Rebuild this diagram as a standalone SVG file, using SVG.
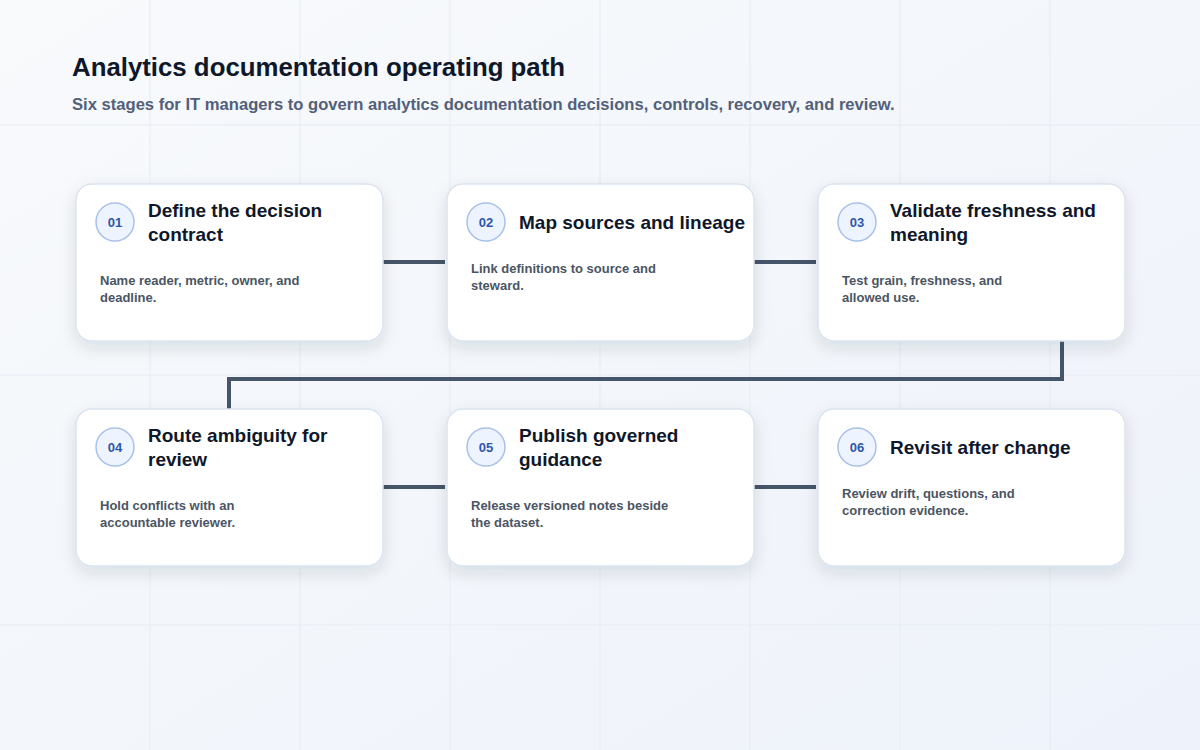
<svg xmlns="http://www.w3.org/2000/svg" width="1200" height="750" viewBox="0 0 1200 750">
<defs>
<linearGradient id="bg" x1="0" y1="0" x2="1" y2="1"><stop offset="0" stop-color="#f8fafc"/><stop offset="1" stop-color="#eef2fa"/></linearGradient>
<filter id="sh" x="-20%" y="-20%" width="140%" height="150%"><feDropShadow dx="0" dy="6" stdDeviation="8" flood-color="#1e293b" flood-opacity="0.12"/></filter>
<style>
.card{fill:#fff;stroke:#dbe3ef;stroke-width:1.5;filter:url(#sh)}
.badge{fill:#eef4ff;stroke:#a9c1ea;stroke-width:1.5}
.num{font-family:"Liberation Sans",Arial,sans-serif;font-size:13px;font-weight:700;fill:#2f57a8;text-anchor:middle}
.t{font-family:"Liberation Sans",Arial,sans-serif;font-size:19px;font-weight:700;fill:#0f172a}
.b{font-family:"Liberation Sans",Arial,sans-serif;font-size:13px;font-weight:700;fill:#4b5563}
.c{fill:none;stroke:#475569;stroke-width:4}
.g{stroke:#e6ebf3;stroke-width:1}
</style>
</defs>
<rect width="1200" height="750" fill="url(#bg)"/>
<g>
<line class="g" x1="150" y1="0" x2="150" y2="750"/><line class="g" x1="300" y1="0" x2="300" y2="750"/><line class="g" x1="450" y1="0" x2="450" y2="750"/><line class="g" x1="600" y1="0" x2="600" y2="750"/><line class="g" x1="750" y1="0" x2="750" y2="750"/><line class="g" x1="900" y1="0" x2="900" y2="750"/><line class="g" x1="1050" y1="0" x2="1050" y2="750"/>
<line class="g" x1="0" y1="125" x2="1200" y2="125"/><line class="g" x1="0" y1="375" x2="1200" y2="375"/><line class="g" x1="0" y1="625" x2="1200" y2="625"/>
</g>
<text x="72" y="76" font-family="Liberation Sans,Arial,sans-serif" font-size="25.8" font-weight="700" fill="#0f172a">Analytics documentation operating path</text>
<text x="72" y="110" font-family="Liberation Sans,Arial,sans-serif" font-size="16.6" font-weight="700" fill="#52607a">Six stages for IT managers to govern analytics documentation decisions, controls, recovery, and review.</text>
<g id="connectors">
<line class="c" x1="383" y1="262" x2="445" y2="262"/>
<line class="c" x1="754" y1="262" x2="816" y2="262"/>
<polyline class="c" points="1062,341 1062,379 229,379 229,409"/>
<line class="c" x1="383" y1="487" x2="445" y2="487"/>
<line class="c" x1="754" y1="487" x2="816" y2="487"/>
</g>
<g id="n1"><rect class="card" x="76" y="184" width="307" height="157" rx="16"/><circle class="badge" cx="115" cy="222" r="19"/><text class="num" x="115" y="227">01</text><text class="t" x="148" y="217">Define the decision</text><text class="t" x="148" y="241">contract</text><text class="b" x="100" y="285">Name reader, metric, owner, and</text><text class="b" x="100" y="302">deadline.</text></g>
<g id="n2"><rect class="card" x="447" y="184" width="307" height="157" rx="16"/><circle class="badge" cx="486" cy="222" r="19"/><text class="num" x="486" y="227">02</text><text class="t" x="519" y="229">Map sources and lineage</text><text class="b" x="471" y="273">Link definitions to source and</text><text class="b" x="471" y="290">steward.</text></g>
<g id="n3"><rect class="card" x="818" y="184" width="307" height="157" rx="16"/><circle class="badge" cx="857" cy="222" r="19"/><text class="num" x="857" y="227">03</text><text class="t" x="890" y="217">Validate freshness and</text><text class="t" x="890" y="241">meaning</text><text class="b" x="842" y="285">Test grain, freshness, and</text><text class="b" x="842" y="302">allowed use.</text></g>
<g id="n4"><rect class="card" x="76" y="409" width="307" height="157" rx="16"/><circle class="badge" cx="115" cy="447" r="19"/><text class="num" x="115" y="452">04</text><text class="t" x="148" y="442">Route ambiguity for</text><text class="t" x="148" y="466">review</text><text class="b" x="100" y="510">Hold conflicts with an</text><text class="b" x="100" y="527">accountable reviewer.</text></g>
<g id="n5"><rect class="card" x="447" y="409" width="307" height="157" rx="16"/><circle class="badge" cx="486" cy="447" r="19"/><text class="num" x="486" y="452">05</text><text class="t" x="519" y="442">Publish governed</text><text class="t" x="519" y="466">guidance</text><text class="b" x="471" y="510">Release versioned notes beside</text><text class="b" x="471" y="527">the dataset.</text></g>
<g id="n6"><rect class="card" x="818" y="409" width="307" height="157" rx="16"/><circle class="badge" cx="857" cy="447" r="19"/><text class="num" x="857" y="452">06</text><text class="t" x="890" y="454">Revisit after change</text><text class="b" x="842" y="498">Review drift, questions, and</text><text class="b" x="842" y="515">correction evidence.</text></g>
</svg>
